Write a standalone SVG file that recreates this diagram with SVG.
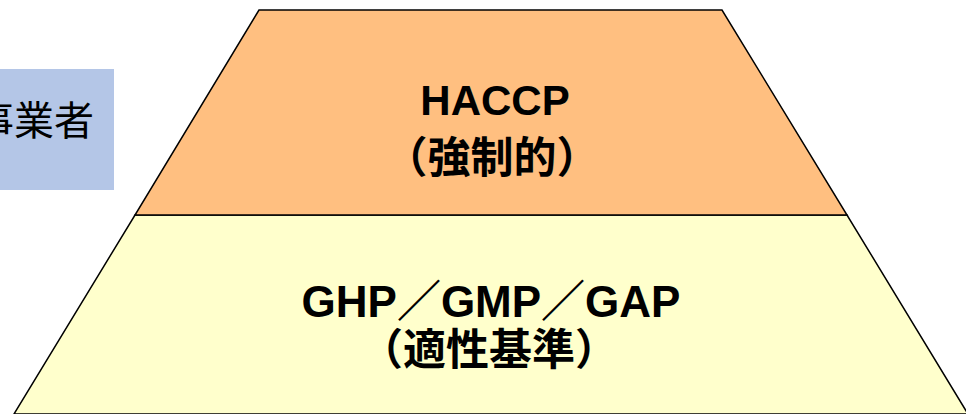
<svg xmlns="http://www.w3.org/2000/svg" width="966" height="414" viewBox="0 0 966 414">
<style>
.lbl{font-family:"Liberation Sans","Noto Sans CJK JP",sans-serif;font-weight:bold;font-size:42px;fill:#000;text-anchor:middle}
.side{font-family:"Liberation Sans","Noto Sans CJK JP",sans-serif;font-size:40px;fill:#000;text-anchor:end}
.tier{stroke:#000;stroke-width:1.5;stroke-linejoin:miter}
</style>
<rect width="966" height="414" fill="#fff"/>
<g id="actor">
<rect x="-2" y="69" width="116" height="121" fill="#B4C6E7"/>
<text class="side" x="94" y="135">事業者</text>
</g>
<g id="tier-ghp">
<polygon class="tier" points="135,215 847,215 968,414 14,414" fill="#FFFFCC"/>
<text class="lbl" x="491" y="317" style="font-size:44px">GHP／GMP／GAP</text>
<text class="lbl" x="489" y="365" style="font-size:43px">（適性基準）</text>
</g>
<g id="tier-haccp">
<polygon class="tier" points="259,10 722,10 847,215 135,215" fill="#FFBF80"/>
<text class="lbl" x="495" y="115">HACCP</text>
<text class="lbl" x="492" y="173" style="font-size:43px">（強制的）</text>
</g>
<g id="connectors"></g>
</svg>
